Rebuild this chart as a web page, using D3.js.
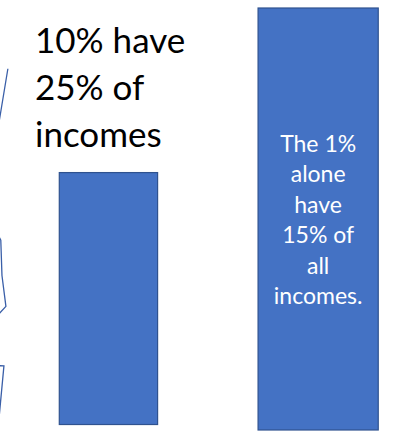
<!DOCTYPE html>
<html>
<head>
<meta charset="utf-8">
<script src="https://cdn.jsdelivr.net/npm/d3@7"></script>
<style>
  html, body { margin: 0; padding: 0; background: #fff; }
  svg { display: block; }
</style>
</head>
<body>
<svg id="chart" width="394" height="437"></svg>
<script>
// Income groups and their bars (positions in chart units, 0–100 on both axes)
const groups = ["Top 10%", "Top 1%"];
const barLeft = [15.05, 65.5];
const barRight = [40.0, 96.0];
const barBase = [1.3, 0.0];
const barTop = [61.0, 100.0];

// Captions
const outsideLines = ["10% have", "25% of", "incomes"];
const insideLines = ["The 1%", "alone", "have", "15% of", "all", "incomes."];

// Bracket drawn down the left edge (chart units)
const bracketX = [2.0, -0.5, -2.5, -2.5, 0.2, 0.5, 1.5, -0.5, -2.5, -2.5, 1.0, -0.3];
const bracketY = [85.6, 71.5, 65.0, 49.5, 45.0, 36.6, 29.3, 27.3, 20.0, 15.3, 15.2, 2.3];

const W = 394, H = 437;
const x = d3.scaleLinear().domain([0, 100]).range([0, W]);
const y = d3.scaleLinear().domain([0, 100]).range([430, 8]);

const svg = d3.select("#chart");

const bars = groups.map((g, i) => ({ g, x0: barLeft[i], x1: barRight[i], y0: barBase[i], y1: barTop[i] }));

svg.selectAll("rect.bar")
  .data(bars)
  .join("rect")
  .attr("class", "bar")
  .attr("x", d => x(d.x0))
  .attr("y", d => y(d.y1))
  .attr("width", d => x(d.x1) - x(d.x0))
  .attr("height", d => y(d.y0) - y(d.y1))
  .attr("fill", "#4472C4")
  .attr("stroke", "#2F528F")
  .attr("stroke-width", 1.2);

// Bracket outline
const bracket = bracketX.map((v, i) => [x(v), y(bracketY[i])]);
svg.append("path")
  .attr("d", d3.line()(bracket))
  .attr("fill", "none")
  .attr("stroke", "#3A5FA8")
  .attr("stroke-width", 1.3)
  .attr("stroke-linejoin", "miter");

// Caption beside the first bar
svg.append("text")
  .attr("font-family", "Lato, 'Open Sans', sans-serif")
  .attr("font-size", 35)
  .attr("fill", "#000")
  .selectAll("tspan")
  .data(outsideLines)
  .join("tspan")
  .attr("x", 35)
  .attr("y", (d, i) => 53 + i * 47)
  .text(d => d);

// Caption inside the second bar
const cx = (x(barLeft[1]) + x(barRight[1])) / 2;
svg.append("text")
  .attr("font-family", "Lato, 'Open Sans', sans-serif")
  .attr("font-size", 23)
  .attr("fill", "#fff")
  .attr("text-anchor", "middle")
  .selectAll("tspan")
  .data(insideLines)
  .join("tspan")
  .attr("x", cx)
  .attr("y", (d, i) => 152 + i * 30.4)
  .text(d => d);
</script>
</body>
</html>
